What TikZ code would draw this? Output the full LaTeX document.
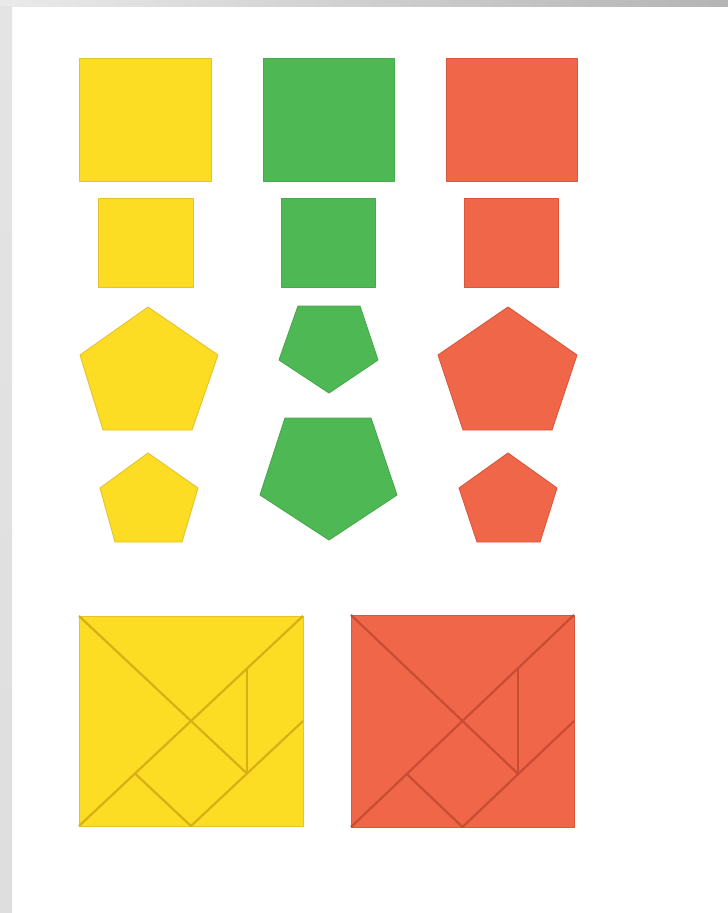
\documentclass[tikz,border=0pt]{standalone}
\definecolor{yfill}{RGB}{253,220,36}
\definecolor{yedge}{RGB}{230,194,48}
\definecolor{yline}{RGB}{216,176,22}
\definecolor{gfill}{RGB}{78,184,84}
\definecolor{gedge}{RGB}{72,168,78}
\definecolor{rfill}{RGB}{240,102,72}
\definecolor{redge}{RGB}{218,86,60}
\definecolor{rline}{RGB}{202,76,50}
\tikzset{
  yshape/.style={fill=yfill, draw=yedge, line width=0.9pt, line join=round},
  gshape/.style={fill=gfill, draw=gedge, line width=0.9pt, line join=round},
  rshape/.style={fill=rfill, draw=redge, line width=0.9pt, line join=round},
  ytan/.style={draw=yline, line width=2.2pt},
  rtan/.style={draw=rline, line width=2.2pt}
}
\begin{document}
\begin{tikzpicture}[x=1pt,y=-1pt]
\useasboundingbox (0,0) rectangle (728,913);
\fill[white] (0,0) rectangle (728,913);
% frame bands
\shade[left color={rgb,255:red,234;green,234;blue,234}, right color={rgb,255:red,180;green,180;blue,180}] (0,0) rectangle (728,6);
\shade[top color={rgb,255:red,228;green,228;blue,228}, middle color={rgb,255:red,249;green,249;blue,249}, bottom color={rgb,255:red,222;green,222;blue,222}] (0,6) rectangle (12,913);
% big squares
\filldraw[yshape] (79,58) rectangle (211,181);
\filldraw[gshape] (263,58) rectangle (394,181);
\filldraw[rshape] (446,58) rectangle (577,181);
% small squares
\filldraw[yshape] (98,198) rectangle (193,287);
\filldraw[gshape] (281,198) rectangle (375,287);
\filldraw[rshape] (464,198) rectangle (558,287);
% pentagons
\filldraw[yshape] (148,307) -- (218,355) -- (192,430) -- (103,430) -- (80,355) -- cycle;
\filldraw[yshape] (148,453) -- (198,488) -- (182,542) -- (115,542) -- (100,488) -- cycle;
\filldraw[gshape] (298,306) -- (360,306) -- (378,360) -- (329,393) -- (279,360) -- cycle;
\filldraw[gshape] (285,418) -- (371,418) -- (397,495) -- (329,540) -- (260,495) -- cycle;
\filldraw[rshape] (508,307) -- (577,355) -- (552,430) -- (463,430) -- (438,355) -- cycle;
\filldraw[rshape] (508,453) -- (557,488) -- (540,542) -- (477,542) -- (459,488) -- cycle;
% yellow tangram
\begin{scope}[shift={(79,826)}, x=56pt, y=52.5pt]
  \filldraw[yshape] (0,0) rectangle (4,4);
  \draw[ytan] (0,0) -- (4,4);
  \draw[ytan] (0,4) -- (3,1);
  \draw[ytan] (3,3) -- (3,1);
  \draw[ytan] (4,2) -- (2,0);
  \draw[ytan] (1,1) -- (2,0);
\end{scope}
% red tangram
\begin{scope}[shift={(351,827)}, x=55.75pt, y=53pt]
  \filldraw[rshape] (0,0) rectangle (4,4);
  \draw[rtan] (0,0) -- (4,4);
  \draw[rtan] (0,4) -- (3,1);
  \draw[rtan] (3,3) -- (3,1);
  \draw[rtan] (4,2) -- (2,0);
  \draw[rtan] (1,1) -- (2,0);
\end{scope}
\end{tikzpicture}
\end{document}
